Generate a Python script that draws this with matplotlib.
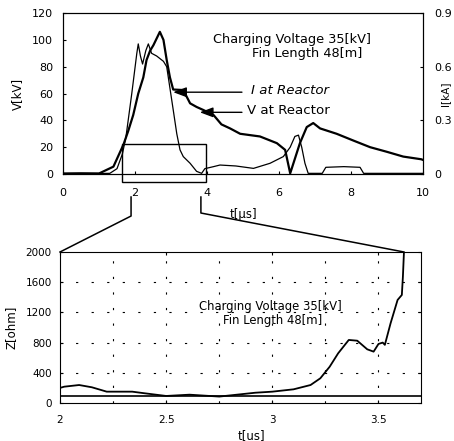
import matplotlib
matplotlib.use("Agg")
import matplotlib.pyplot as plt
from matplotlib.lines import Line2D
from matplotlib.patches import Rectangle

# top panel: voltage / current at reactor (0 - 10 us)
v_time = [0.0, 0.5, 1.0, 1.3, 1.5, 1.65, 1.75, 1.85, 1.91, 1.98, 2.05, 2.09, 2.15,
          2.21, 2.3, 2.37, 2.46, 2.6, 2.79, 2.88, 3.06, 3.16, 3.25, 3.34, 3.53, 3.71,
          3.85, 3.94, 4.18, 4.36, 4.8, 5.29, 5.75, 6.12, 6.31, 6.44, 6.54, 6.63, 6.72,
          6.81, 7.2, 7.3, 7.8, 8.25, 8.35, 9.0, 10.0]
v_kv = [0.3, 0.5, 0.4, 0.5, 4, 15, 28, 48, 60, 75, 90, 97, 88,
        82, 92, 97, 90, 88, 84, 80, 48, 30, 18, 13, 8, 2,
        0.5, 4, 5.5, 6.7, 6, 4.2, 8, 13, 20, 28, 29, 20, 8,
        0.5, 0.5, 5, 5.5, 5, 0.5, 0.5, 0.5]

i_time = [0.0, 0.5, 1.0, 1.4, 1.68, 1.81, 1.95, 2.09, 2.23, 2.32, 2.42, 2.51, 2.69,
          2.79, 2.88, 2.97, 3.06, 3.34, 3.53, 3.71, 3.9, 4.18, 4.4, 4.64, 4.92, 5.47,
          5.94, 6.17, 6.31, 6.58, 6.77, 6.95, 7.14, 7.6, 8.06, 8.53, 8.99, 9.45, 9.95,
          10.0]
i_scaled = [0.4, 0.5, 0.4, 5.5, 22, 32, 44, 60, 72, 85, 92, 96, 106,
            100, 85, 72, 63, 62.6, 52.7, 50, 47.7, 44, 37, 34, 30, 28,
            23, 18, 0.5, 23, 35, 38, 34, 30, 25, 20, 16.6, 13, 11,
            10.5]

# bottom panel: impedance 2.0 - 3.7 us
z_time = [2.0, 2.02, 2.09, 2.15, 2.22, 2.34, 2.40, 2.50, 2.61, 2.75, 2.92, 3.0, 3.10,
          3.18, 3.226, 3.27, 3.31, 3.36, 3.40, 3.447, 3.477, 3.50, 3.52, 3.53, 3.557,
          3.59, 3.61, 3.615, 3.62]
z_ohm = [200, 216, 238, 208, 150, 150, 128, 93, 110, 85, 136, 150, 181,
         238, 327, 480, 658, 835, 825, 711, 680, 782, 800, 770, 1056,
         1365, 1431, 1673, 2000]
flat_time = [2.0, 3.7]
flat_ohm = [95, 95]

zoom_box = (1.64, -6, 3.97, 22.5)

plt.rcParams["font.family"] = "DejaVu Sans"
fig = plt.figure(figsize=(4.54, 4.41), dpi=100)

# ---- top panel
ax1 = fig.add_axes([0.1388, 0.6054, 0.793, 0.365])
ax1.plot(v_time, v_kv, color="black", lw=0.9)
ax1.plot(i_time, i_scaled, color="black", lw=1.6)
ax1.set_xlim(0, 10)
ax1.set_ylim(0, 120)
ax1.set_xticks([0, 2, 4, 6, 8, 10])
ax1.set_yticks([0, 20, 40, 60, 80, 100, 120])
ax1.tick_params(axis="x", direction="in", length=2, labelsize=8, pad=10)
ax1.tick_params(axis="y", direction="in", length=2, labelsize=8, pad=7)
ax1.set_ylabel("V[kV]", fontsize=8.5, labelpad=6)
ax1.set_xlabel("t[μs]", fontsize=8.5)
ax1.xaxis.set_label_coords(0.5, -0.21)

ax1r = ax1.twinx()
ax1r.set_ylim(0, 0.9)
ax1r.set_yticks([0, 0.3, 0.6, 0.9])
ax1r.set_yticklabels(["0", "0.3", "0.6", "0.9"])
ax1r.tick_params(direction="in", length=2, labelsize=8, pad=8)
ax1r.text(1.062, 0.5, "I[kA]", fontsize=7.5, rotation=90, ha="center", va="center",
          transform=ax1r.transAxes)

ax1.add_patch(Rectangle((zoom_box[0], zoom_box[1]), zoom_box[2] - zoom_box[0],
                        zoom_box[3] - zoom_box[1], fill=False, ec="black", lw=1,
                        clip_on=False))

ax1.text(6.36, 100, "Charging Voltage 35[kV]", fontsize=9.3, ha="center", va="center")
ax1.text(6.78, 90, "Fin Length 48[m]", fontsize=9.3, ha="center", va="center")

arrow = dict(arrowstyle="-|>,head_length=0.8,head_width=0.3", color="black", lw=1,
             shrinkA=0, shrinkB=0)
ax1.annotate("", xy=(3.06, 61), xytext=(4.97, 61), arrowprops=arrow)
ax1.annotate("", xy=(3.8, 46), xytext=(4.97, 46), arrowprops=arrow)
ax1.text(5.22, 62.5, "I at Reactor", fontsize=9.6, style="italic", ha="left", va="center")
ax1.text(5.11, 47, "V at Reactor", fontsize=9.6, ha="left", va="center")

# ---- bottom panel
ax2 = fig.add_axes([0.1322, 0.0862, 0.795, 0.3424])
ax2.plot(flat_time, flat_ohm, color="black", lw=1.2)
ax2.plot(z_time, z_ohm, color="black", lw=1.3)
ax2.set_xlim(2, 3.7)
ax2.set_ylim(0, 2000)
ax2.set_xticks([2, 2.5, 3, 3.5])
ax2.set_xticklabels(["2", "2.5", "3", "3.5"])
ax2.set_yticks([0, 400, 800, 1200, 1600, 2000])
ax2.tick_params(axis="x", direction="in", length=2, labelsize=7.5, top=True, pad=9)
ax2.tick_params(axis="y", direction="in", length=2, labelsize=7.5, right=True, pad=6)
for gx in [2.25, 2.5, 2.75, 3.0, 3.25, 3.5]:
    ax2.axvline(gx, color="black", lw=0.8, ls=(0, (2, 12)))
for gy in [400, 800, 1200, 1600]:
    ax2.axhline(gy, color="black", lw=0.8, ls=(0, (2, 12)))
ax2.set_ylabel("Z[ohm]", fontsize=8.5, labelpad=6)
ax2.set_xlabel("t[us]", fontsize=8.5)
ax2.xaxis.set_label_coords(0.53, -0.17)
ax2.text(2.99, 1272, "Charging Voltage 35[kV]", fontsize=8.4, ha="center", va="center")
ax2.text(3.0, 1087, "Fin Length 48[m]", fontsize=8.4, ha="center", va="center")

# ---- zoom connectors (top-axes x ticks down to the bottom-axes corners)
to_fig = fig.transFigure.inverted()
left_top = ax1.transData.transform((1.89, 0))
right_top = ax1.transData.transform((3.83, 0))
left_bot = ax2.transData.transform((2.0, 2000))
right_bot = ax2.transData.transform((3.62, 2000))
drop1, bend1, bend2 = 23, 42, 39
for top_pt, bot_pt, bend in [(left_top, left_bot, bend1), (right_top, right_bot, bend2)]:
    pts = [(top_pt[0], top_pt[1] - drop1), (top_pt[0], top_pt[1] - bend), tuple(bot_pt)]
    fpts = to_fig.transform(pts)
    fig.add_artist(Line2D(fpts[:, 0], fpts[:, 1], color="black", lw=1.1))

fig.savefig("out.png", dpi=100)
